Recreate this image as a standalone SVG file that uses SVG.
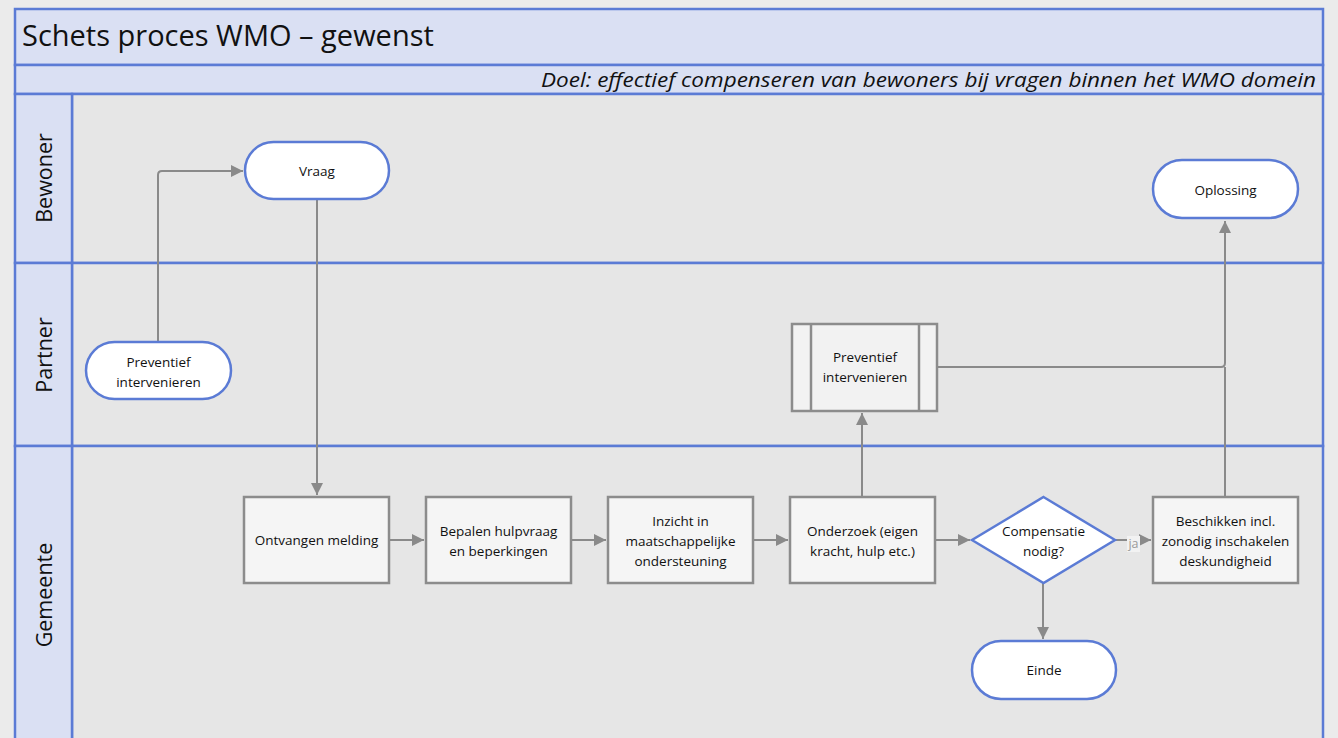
<svg xmlns="http://www.w3.org/2000/svg" width="1338" height="738" viewBox="0 0 1338 738">
<defs>
<style>
.hdr{fill:#dae0f3;stroke:#5b7bd5;stroke-width:2.5}
.lane{fill:#e6e6e6;stroke:#5b7bd5;stroke-width:2.5}
.term{fill:#ffffff;stroke:#5b7bd5;stroke-width:2.5}
.proc{fill:#f5f5f5;stroke:#8c8c8c;stroke-width:2.5}
.dec{fill:#ffffff;stroke:#5b7bd5;stroke-width:2.5}
.con{fill:none;stroke:#8a8a8a;stroke-width:2}
.t{font-family:"Open Sans","Liberation Sans",sans-serif;font-size:13.5px;fill:#111;text-anchor:middle}
.lt{font-family:"Open Sans","Liberation Sans",sans-serif;font-size:21.5px;fill:#111;text-anchor:middle}
</style>
<marker id="ah" viewBox="0 0 10 10" refX="10" refY="5" markerWidth="6" markerHeight="6" markerUnits="strokeWidth" orient="auto">
<path d="M0,0 L10,5 L0,10 z" fill="#8a8a8a"/>
</marker>
</defs>
<rect x="0" y="0" width="1338" height="738" fill="#ebebeb"/>
<g id="pool">
<rect class="hdr" x="15" y="9" width="1308" height="56"/>
<rect class="hdr" x="15" y="65" width="1308" height="29"/>
<text x="22" y="46" font-family="'Open Sans','Liberation Sans',sans-serif" font-size="29" fill="#111">Schets proces WMO – gewenst</text>
<text x="1316" y="87" font-family="'Open Sans','Liberation Sans',sans-serif" font-size="19.5" font-style="italic" fill="#111" text-anchor="end" textLength="775" lengthAdjust="spacingAndGlyphs">Doel: effectief compenseren van bewoners bij vragen binnen het WMO domein</text>
</g>
<g id="lane-bewoner">
<rect class="lane" x="72" y="94" width="1251" height="169"/>
<rect class="hdr" x="15" y="94" width="57" height="169"/>
<text class="lt" transform="translate(52,178) rotate(-90)">Bewoner</text>
</g>
<g id="lane-partner">
<rect class="lane" x="72" y="263" width="1251" height="183"/>
<rect class="hdr" x="15" y="263" width="57" height="183"/>
<text class="lt" transform="translate(52,355) rotate(-90)">Partner</text>
</g>
<g id="lane-gemeente">
<rect class="lane" x="72" y="446" width="1251" height="300"/>
<rect class="hdr" x="15" y="446" width="57" height="300"/>
<text class="lt" transform="translate(52,595) rotate(-90)">Gemeente</text>
</g>
<g id="connectors">
<path class="con" d="M158,342 V175 Q158,171 162,171 H243" marker-end="url(#ah)"/>
<path class="con" d="M317,200 V495" marker-end="url(#ah)"/>
<path class="con" d="M389,540 H424" marker-end="url(#ah)"/>
<path class="con" d="M571,540 H606" marker-end="url(#ah)"/>
<path class="con" d="M753,540 H788" marker-end="url(#ah)"/>
<path class="con" d="M935,540 H970" marker-end="url(#ah)"/>
<path class="con" d="M1115,540 H1151" marker-end="url(#ah)"/>
<path class="con" d="M1043,583 V639" marker-end="url(#ah)"/>
<path class="con" d="M862,497 V413" marker-end="url(#ah)"/>
<path class="con" d="M937,367 H1221 Q1225,367 1225,363 V221" marker-end="url(#ah)"/>
<path class="con" d="M1225,497 V367"/>
<rect x="1127" y="536" width="13" height="16" fill="#f2f2f2"/>
<text x="1133.5" y="548" font-family="'Open Sans','Liberation Sans',sans-serif" font-size="12.5" fill="#9a9a9a" text-anchor="middle">ja</text>
</g>
<g id="vraag">
<rect class="term" x="245" y="142" width="144" height="57" rx="28.5"/>
<text class="t" x="317" y="176">Vraag</text>
</g>
<g id="preventief-partner-start">
<rect class="term" x="86" y="342" width="145" height="57" rx="28.5"/>
<text class="t" x="158.5" y="367">Preventief</text>
<text class="t" x="158.5" y="387">intervenieren</text>
</g>
<g id="oplossing">
<rect class="term" x="1153" y="160" width="145" height="58" rx="29"/>
<text class="t" x="1225.5" y="195">Oplossing</text>
</g>
<g id="preventief-proces">
<rect class="proc" x="792" y="324" width="145" height="87" style="fill:#f2f2f2"/>
<line x1="811" y1="324" x2="811" y2="411" stroke="#8c8c8c" stroke-width="2.5"/>
<line x1="919" y1="324" x2="919" y2="411" stroke="#8c8c8c" stroke-width="2.5"/>
<text class="t" x="865" y="362">Preventief</text>
<text class="t" x="865" y="382">intervenieren</text>
</g>
<g id="ontvangen">
<rect class="proc" x="244" y="497" width="145" height="86"/>
<text class="t" x="316.5" y="545">Ontvangen melding</text>
</g>
<g id="bepalen">
<rect class="proc" x="426" y="497" width="145" height="86"/>
<text class="t" x="498.5" y="536">Bepalen hulpvraag</text>
<text class="t" x="498.5" y="556">en beperkingen</text>
</g>
<g id="inzicht">
<rect class="proc" x="608" y="497" width="145" height="86"/>
<text class="t" x="680.5" y="526">Inzicht in</text>
<text class="t" x="680.5" y="546">maatschappelijke</text>
<text class="t" x="680.5" y="566">ondersteuning</text>
</g>
<g id="onderzoek">
<rect class="proc" x="790" y="497" width="145" height="86"/>
<text class="t" x="862.5" y="536">Onderzoek (eigen</text>
<text class="t" x="862.5" y="556">kracht, hulp etc.)</text>
</g>
<g id="compensatie">
<polygon class="dec" points="1043.5,497 1115,540 1043.5,583 972,540"/>
<text class="t" x="1043.5" y="536">Compensatie</text>
<text class="t" x="1043.5" y="556">nodig?</text>
</g>
<g id="beschikken">
<rect class="proc" x="1153" y="497" width="145" height="86"/>
<text class="t" x="1225.5" y="526">Beschikken incl.</text>
<text class="t" x="1225.5" y="546">zonodig inschakelen</text>
<text class="t" x="1225.5" y="566">deskundigheid</text>
</g>
<g id="einde">
<rect class="term" x="972" y="641" width="144" height="58" rx="29"/>
<text class="t" x="1044" y="675">Einde</text>
</g>
</svg>
